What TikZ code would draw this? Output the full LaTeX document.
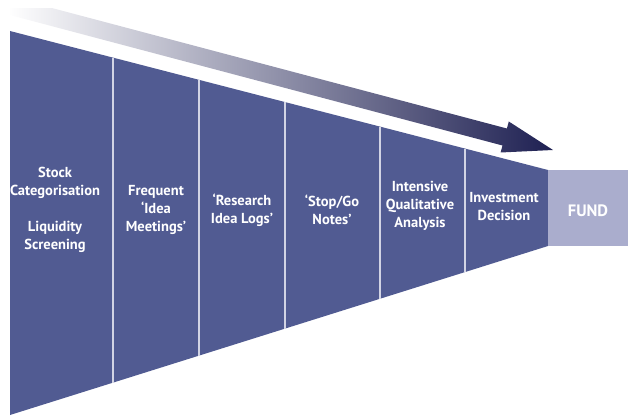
\documentclass[tikz,border=0pt]{standalone}
\usepackage{fontspec}
\setmainfont{PT Sans}
\definecolor{funnel}{RGB}{81,91,146}
\definecolor{fundc}{RGB}{170,173,205}
\definecolor{divc}{RGB}{210,212,228}
\definecolor{navy}{RGB}{30,32,82}
\begin{document}
\begin{tikzpicture}[x=1pt,y=-1pt,
  lbl/.style={text=white,font=\bfseries\fontsize{14.5}{18}\selectfont,align=center,inner sep=0pt},
  divline/.style={draw=divc,line width=1.4pt}]
\useasboundingbox (0,0) rectangle (630,417);
% gradient arrow
\begin{scope}
  \clip (10,9) rectangle (630,417);
  \shade[left color=white,right color=navy]
    (12.2,-2.5) -- (506.9,128.5) -- (508.8,121.5) -- (553,150)
    -- (500.6,152.5) -- (502.5,145.5) -- (7.8,14.5) -- cycle;
\end{scope}
% funnel
\fill[funnel] (10,31) -- (548,170) -- (548,246) -- (10,415) -- cycle;
% fund box
\fill[fundc] (548,170) rectangle (628,246);
% dividers
\foreach \x in {113,199,285,380,465}{
  \draw[divline] (\x,{31+0.2584*(\x-10)}) -- (\x,{415-0.3141*(\x-10)});
}
% labels
\node[lbl] (c1) at (55,210) {Stock\\Categorisation\\[18pt]Liquidity\\Screening};
\node[lbl] (c2) at (156,210) {Frequent\\‘Idea\\Meetings’};
\node[lbl] (c3) at (242,210) {‘Research\\Idea Logs’};
\node[lbl] (c4) at (332,210) {‘Stop/Go\\Notes’};
\node[lbl] (c5) at (420,206) {Intensive\\Qualitative\\Analysis};
\node[lbl] (c6) at (504,207) {Investment\\Decision};
\node[lbl,font=\bfseries\fontsize{16.5}{18}\selectfont] (fund) at (588,211) {FUND};
\end{tikzpicture}
\end{document}
